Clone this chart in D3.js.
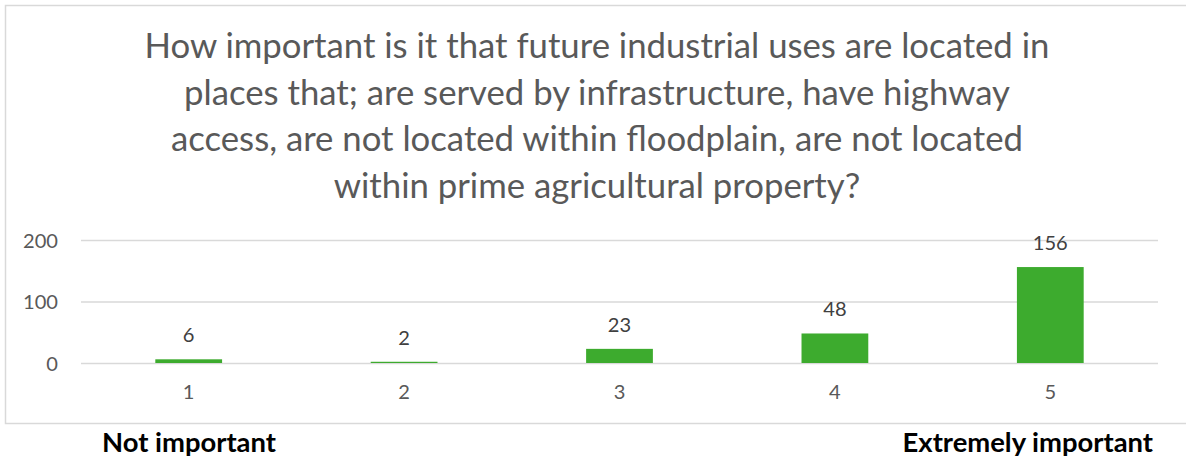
<!DOCTYPE html>
<meta charset="utf-8">
<style>
    body { margin: 0; background: #fff; }
    text { font-family: Lato, "Open Sans", sans-serif; }
</style>
<body>
    <script src="https://d3js.org/d3.v7.min.js"></script>
    <script>
        // chart data
        const categories = ["1", "2", "3", "4", "5"];
        const counts = [6, 2, 23, 48, 156];
        const yTicks = [0, 100, 200];
        const titleLines = [
            "How important is it that future industrial uses are located in",
            "places that; are served by infrastructure, have highway",
            "access, are not located within floodplain, are not located",
            "within prime agricultural property?"
        ];
        const scaleEnds = ["Not important", "Extremely important"];

        let width = 1186;
        let height = 460;

        let svg = d3.select("body").append("svg")
            .attr("width", width)
            .attr("height", height);

        // shrink/grow a text so it spans the wanted width
        function fitWidth(sel, target) {
            let w = sel.node().getComputedTextLength();
            let fs = parseFloat(sel.style("font-size"));
            let nfs = fs * target / w;
            sel.style("font-size", nfs + "px");
            return nfs;
        }

        // heading of the page above, cut off by the crop
        svg.append("text")
            .attr("x", 16)
            .attr("y", -4)
            .style("font-size", "26px")
            .style("font-weight", "bold")
            .attr("fill", "#000")
            .text("Siting Ranking");

        // chart frame
        svg.append("rect")
            .attr("x", 5.5)
            .attr("y", 5.5)
            .attr("width", 1190)
            .attr("height", 418)
            .attr("fill", "none")
            .attr("stroke", "#d9d9d9")
            .attr("stroke-width", 1.5);

        // title
        let title = svg.append("g").attr("fill", "#595959");
        title.selectAll("text")
            .data(titleLines)
            .join("text")
                .attr("x", 597)
                .attr("y", (d, i) => 58 + i * 46.5)
                .attr("text-anchor", "middle")
                .style("font-size", "30px")
                .text(d => d);
        let titleSize = fitWidth(title.select("text"), 905);
        title.selectAll("text").style("font-size", titleSize + "px");

        // scales
        let x = d3.scaleBand()
            .domain(categories)
            .range([81, 1158])
            .paddingInner(0.69)
            .paddingOuter(0.345);

        let y = d3.scaleLinear()
            .domain([0, 200])
            .range([363, 240]);

        // number size: "200" is about 35px wide in the reference
        let probe = svg.append("text").style("font-size", "20px").text("200");
        let numSize = fitWidth(probe, 35);
        probe.remove();

        // gridlines + y labels
        let yAxis = svg.append("g")
            .attr("transform", "translate(81,0)")
            .call(d3.axisLeft(y).tickValues(yTicks).tickSize(-(1158 - 81)).tickPadding(23));
        yAxis.select(".domain").remove();
        yAxis.selectAll(".tick line").attr("stroke", "#d9d9d9").attr("stroke-width", 1.3);
        yAxis.selectAll(".tick text")
            .attr("fill", "#595959")
            .style("font-size", numSize + "px")
            .style("font-family", "Lato, 'Open Sans', sans-serif")
            .attr("dy", "0.36em");

        // x labels
        let xAxis = svg.append("g")
            .attr("transform", "translate(0,363)")
            .call(d3.axisBottom(x).tickSize(0).tickPadding(22));
        xAxis.select(".domain").remove();
        xAxis.selectAll(".tick text")
            .attr("fill", "#595959")
            .style("font-size", numSize + "px")
            .style("font-family", "Lato, 'Open Sans', sans-serif");

        // bars
        svg.append("g").selectAll("rect")
            .data(counts)
            .join("rect")
                .attr("x", (d, i) => x(categories[i]))
                .attr("y", d => y(d))
                .attr("width", x.bandwidth())
                .attr("height", d => y(0) - y(d))
                .attr("fill", "#3dab2e");

        // value labels
        svg.append("g").selectAll("text")
            .data(counts)
            .join("text")
                .attr("x", (d, i) => x(categories[i]) + x.bandwidth() / 2)
                .attr("y", d => y(d) - 17)
                .attr("text-anchor", "middle")
                .attr("fill", "#404040")
                .style("font-size", numSize + "px")
                .text(d => d);

        // scale end labels under the chart
        let leftEnd = svg.append("text")
            .attr("x", 102)
            .attr("y", 452)
            .style("font-size", "24px")
            .style("font-weight", "bold")
            .attr("fill", "#000")
            .text(scaleEnds[0]);
        let endSize = fitWidth(leftEnd, 174);

        svg.append("text")
            .attr("x", 1153)
            .attr("y", 452)
            .attr("text-anchor", "end")
            .style("font-size", endSize + "px")
            .style("font-weight", "bold")
            .attr("fill", "#000")
            .text(scaleEnds[1]);
    </script>
</body>
